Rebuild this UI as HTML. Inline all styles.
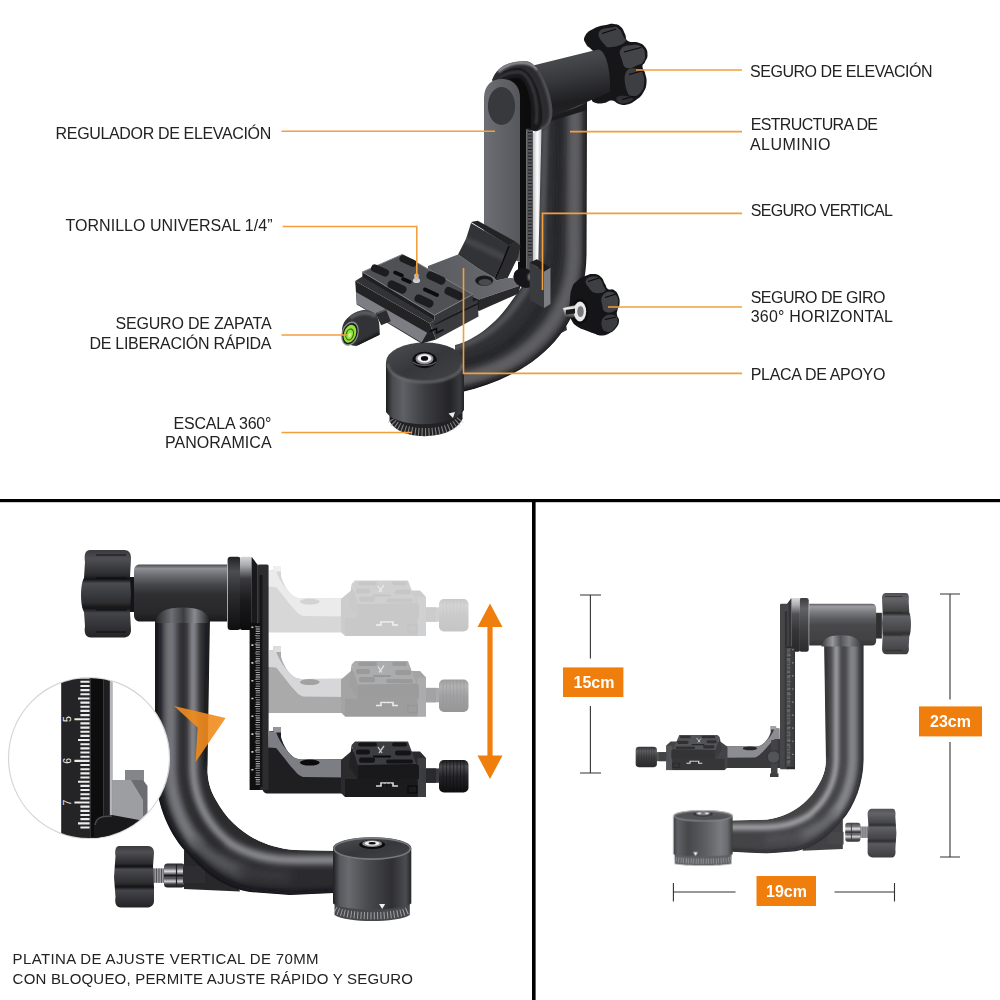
<!DOCTYPE html>
<html lang="es">
<head>
<meta charset="utf-8">
<title>Gimbal</title>
<style>
html,body{margin:0;padding:0;background:#fff;}
body{width:1000px;height:1000px;overflow:hidden;position:relative;font-family:"Liberation Sans",sans-serif;}
svg{position:absolute;left:0;top:0;display:block;}
.lb{font-family:"Liberation Sans",sans-serif;font-size:16px;fill:#222;}
.lb2{font-family:"Liberation Sans",sans-serif;font-size:15px;fill:#222;}
.dim{font-family:"Liberation Sans",sans-serif;font-size:16px;font-weight:bold;fill:#fff;}
.ol{stroke:#f49e3c;stroke-width:1.6;fill:none;}
.dl{stroke:#333;stroke-width:1.1;fill:none;}
</style>
</head>
<body>
<svg width="1000" height="1000" viewBox="0 0 1000 1000">
<defs>
<filter id="b1" filterUnits="userSpaceOnUse" x="0" y="0" width="1000" height="1000"><feGaussianBlur stdDeviation="1"/></filter>
<filter id="b2" filterUnits="userSpaceOnUse" x="0" y="0" width="1000" height="1000"><feGaussianBlur stdDeviation="2"/></filter>
<filter id="b3" filterUnits="userSpaceOnUse" x="0" y="0" width="1000" height="1000"><feGaussianBlur stdDeviation="3.2"/></filter>
<filter id="b5" filterUnits="userSpaceOnUse" x="0" y="0" width="1000" height="1000"><feGaussianBlur stdDeviation="5"/></filter>
<linearGradient id="gVT" x1="0" x2="1" y1="0" y2="0">
 <stop offset="0" stop-color="#2d2d30"/><stop offset=".12" stop-color="#1a1a1c"/><stop offset=".35" stop-color="#1f1f21"/>
 <stop offset=".62" stop-color="#35363a"/><stop offset=".85" stop-color="#2a2a2d"/><stop offset="1" stop-color="#161618"/>
</linearGradient>
<linearGradient id="gHT" x1="0" x2="0.22" y1="0" y2="1">
 <stop offset="0" stop-color="#2e2e31"/><stop offset=".22" stop-color="#48494d"/><stop offset=".5" stop-color="#37383c"/>
 <stop offset=".85" stop-color="#1e1e20"/><stop offset="1" stop-color="#232326"/>
</linearGradient>
<linearGradient id="gCyl" x1="0" x2="1" y1="0" y2="0">
 <stop offset="0" stop-color="#1c1c1e"/><stop offset=".08" stop-color="#4a4b4f"/><stop offset=".22" stop-color="#606166"/>
 <stop offset=".5" stop-color="#3c3d41"/><stop offset=".82" stop-color="#242427"/><stop offset=".95" stop-color="#3a3b3f"/><stop offset="1" stop-color="#222225"/>
</linearGradient>
<linearGradient id="gCylTop" x1="0" x2="1" y1="0" y2="1">
 <stop offset="0" stop-color="#4e4f53"/><stop offset=".5" stop-color="#36373a"/><stop offset="1" stop-color="#434448"/>
</linearGradient>
<linearGradient id="gRing" x1="0" x2="1" y1="0" y2="0">
 <stop offset="0" stop-color="#222"/><stop offset=".3" stop-color="#555"/><stop offset=".6" stop-color="#3a3a3a"/><stop offset="1" stop-color="#1c1c1c"/>
</linearGradient>
<linearGradient id="gPlate" x1="0" x2="1" y1="0" y2="0">
 <stop offset="0" stop-color="#6e6f74"/><stop offset=".5" stop-color="#626368"/><stop offset="1" stop-color="#56575c"/>
</linearGradient>
<linearGradient id="gSilver" x1="0" x2="1" y1="0" y2="0">
 <stop offset="0" stop-color="#bfc0c4"/><stop offset=".5" stop-color="#ffffff"/><stop offset="1" stop-color="#c9cace"/>
</linearGradient>
<linearGradient id="gPlat" x1="0" x2="1" y1="0" y2="0">
 <stop offset="0" stop-color="#5a5b60"/><stop offset="1" stop-color="#6c6d72"/>
</linearGradient>
<radialGradient id="gKnob" cx=".45" cy=".35" r=".8">
 <stop offset="0" stop-color="#4a4b4f"/><stop offset=".5" stop-color="#2a2a2d"/><stop offset="1" stop-color="#151517"/>
</radialGradient>
<linearGradient id="gShaft" x1="0" x2="0" y1="0" y2="1">
 <stop offset="0" stop-color="#777"/><stop offset=".3" stop-color="#f2f2f2"/><stop offset=".6" stop-color="#8a8a8a"/><stop offset="1" stop-color="#333"/>
</linearGradient>

</defs>
<rect width="1000" height="1000" fill="#fff"/>

<g id="topprod">
<path d="M538,331 L565,319 L567,330 L540,344Z" fill="#323336"/>
<clipPath id="cArmT"><path d="M542,100 L587,100 L586.5,255 C586,300 566,338 532,362 C512,376 488,386 462,392 L455,392 L455,345 C476,340 497,322 510,303 C524,284 534,270 537,250 Z"/></clipPath>
<g clip-path="url(#cArmT)">
<path d="M542,100 L587,100 L586.5,255 C586,300 566,338 532,362 C512,376 488,386 462,392 L455,392 L455,345 C476,340 497,322 510,303 C524,284 534,270 537,250 Z" fill="#303134"/>
<path d="M575,95 L574,255 C573,296 554,330 523,353 C504,367 483,375 450,381" stroke="#5e5f64" stroke-width="14" fill="none" filter="url(#b3)"/>
<path d="M546,95 L541.5,250 C538,272 527,289 514,307 C501,325 481,341 450,349" stroke="#55565b" stroke-width="6" fill="none" filter="url(#b2)"/>
<path d="M559,95 L556,255 C553,290 539,316 515,338 C499,352 481,360 450,366" stroke="#232326" stroke-width="6" fill="none" filter="url(#b3)"/>
<path d="M588,95 L587.5,255 C587,300 567,339 533,363 C513,377 489,387 450,394" stroke="#121214" stroke-width="5" fill="none" filter="url(#b2)"/>
</g>
<path d="M389.500,412 L389.500,421 C399,441.500 452,441.500 462.500,419 L462.500,410Z" fill="#222224"/>
<path d="M391,420 C401,436.500 451,436.500 461.500,418" stroke="#c4c4c4" stroke-width="8" stroke-dasharray="1.100 2.300" fill="none" opacity=".6"/>
<path d="M386,362 L386,412 C396,428.500 452,428.500 464,410 L464,362 Z" fill="url(#gCyl)"/>
<ellipse cx="425" cy="362" rx="39" ry="19.5" fill="url(#gCylTop)"/>
<path d="M387.500,364 C390,388 460,388 462.500,364" fill="none" stroke="#6a6b70" stroke-width="2.200" filter="url(#b1)"/>
<ellipse cx="424.500" cy="360" rx="12.200" ry="8.200" fill="#0e0e10"/>
<ellipse cx="424.500" cy="358.800" rx="9" ry="5.600" fill="#8a8a8e"/>
<ellipse cx="424.500" cy="358.400" rx="7" ry="4.200" fill="#f4f4f6"/>
<ellipse cx="424.500" cy="358.400" rx="3.600" ry="2.300" fill="#0c0c0d"/>
<path d="M413,362 C418,366.500 431,366.500 436,362" stroke="#5a5a5e" stroke-width="1.300" fill="none"/>
<path d="M448.500,413.500 l6.500,-1.500 l-2,6z" fill="#ececec"/>
<path d="M585.0,36.0 C587.0,32.1 588.7,31.3 594.0,28.5 C599.3,25.7 601.0,26.1 606.0,25.0 C611.0,23.9 610.2,23.5 614.0,24.0 C617.8,24.5 618.2,24.5 621.0,27.0 C623.8,29.5 623.2,30.5 625.0,34.0 C626.8,37.5 624.7,38.9 628.0,41.0 C631.3,43.1 633.7,41.0 638.0,42.5 C642.3,44.0 642.6,43.9 645.0,47.0 C647.4,50.1 647.5,51.2 647.5,55.0 C647.5,58.8 646.3,59.1 645.0,62.0 C643.7,64.9 642.5,63.7 642.5,66.5 C642.5,69.3 644.0,68.9 645.0,73.0 C646.0,77.1 647.0,78.0 646.5,83.0 C646.0,88.0 645.6,88.7 643.0,93.0 C640.4,97.3 640.0,97.1 636.0,100.0 C632.0,102.9 631.3,103.5 627.0,104.5 C622.7,105.5 622.8,105.0 619.0,104.0 C615.2,103.0 615.8,100.8 612.0,100.5 C608.2,100.2 608.0,102.4 604.0,103.0 C600.0,103.6 599.0,104.0 596.0,103.0 C593.0,102.0 591.7,101.8 592.0,99.0 C592.3,96.2 594.2,95.8 597.0,92.0 C599.8,88.2 602.0,92.0 603.0,84.0 C604.0,76.0 603.8,68.5 601.0,60.0 C598.2,51.5 595.8,54.0 592.0,50.0 C588.2,46.0 587.8,47.5 586.0,44.0 C584.2,40.5 583.0,39.9 585.0,36.0Z" fill="#161618"/>
<path d="M599.0,32.0 C601.0,27.9 607.0,28.3 612.0,27.5 C617.0,26.7 616.2,26.9 619.0,29.0 C621.8,31.1 621.5,32.7 623.0,36.0 C624.5,39.3 627.8,39.2 625.0,42.0 C622.2,44.8 617.3,46.5 612.0,47.0 C606.7,47.5 607.3,47.8 604.0,44.0 C600.7,40.2 597.0,36.1 599.0,32.0Z" fill="#3f4044"/>
<path d="M621.0,49.0 C623.8,45.2 627.7,45.4 633.0,45.0 C638.3,44.6 639.0,45.0 642.0,47.5 C645.0,50.0 644.7,51.4 645.0,55.0 C645.3,58.6 644.8,59.5 643.0,62.0 C641.2,64.5 642.0,63.5 638.0,65.0 C634.0,66.5 631.0,69.3 627.0,68.0 C623.0,66.7 623.5,64.8 622.0,60.0 C620.5,55.2 618.2,52.8 621.0,49.0Z" fill="#434448"/>
<path d="M626.0,72.0 C628.8,66.5 633.7,68.5 638.0,69.0 C642.3,69.5 641.5,70.2 643.0,74.0 C644.5,77.8 644.5,79.5 644.0,84.0 C643.5,88.5 643.5,89.0 641.0,92.0 C638.5,95.0 637.5,96.3 634.0,96.0 C630.5,95.7 629.0,97.0 627.0,91.0 C625.0,85.0 623.2,77.5 626.0,72.0Z" fill="#3d3e42"/>
<path d="M617.0,97.0 C618.8,95.4 622.0,95.5 626.0,96.0 C630.0,96.5 633.0,97.2 633.0,99.0 C633.0,100.8 629.5,102.1 626.0,103.0 C622.5,103.9 621.3,104.0 619.0,102.5 C616.7,101.0 615.2,98.6 617.0,97.0Z" fill="#303134"/>
<path d="M602,33.500 L616,29 M624,52 L641,47.500 M629,74.500 L642,71 M622,99.500 L633,96.500" stroke="#0b0b0c" stroke-width="1.2"/>
<path d="M531,66 L598,49.500 C606,50 611,70 610,92 L552,117 C548,100 542,80 531,66Z" fill="url(#gHT)"/>
<path d="M552,117 L587,103 L587,110 L548,122Z" fill="#1c1c1e"/>
<path d="M492,80 C497,66 512,59.500 528,61.500 C541,66 551,90 552.500,110 C553,124 546,132 536,131.500 L520,128 Z" fill="#2c2c2f"/>
<clipPath id="cHub"><path d="M492,80 C497,66 512,59.500 528,61.500 C541,66 551,90 552.500,110 C553,124 546,132 536,131.500 L520,128 Z"/></clipPath>
<g clip-path="url(#cHub)">
<path d="M498,71.600 C505,65 514,62.500 523,62.500 C530,63 535,66 538,70" stroke="#97989d" stroke-width="3.200" fill="none" filter="url(#b1)"/>
<path d="M538,70 C544,80 550,96 551,110 C551.500,120 548,127 541,129.500" stroke="#55565b" stroke-width="3" fill="none" filter="url(#b1)"/>
</g>
<path d="M493,84 C499,72 510,67.500 520,68 C527,69 533,78 537.600,89.600 C541,100 543,112 542,120 C541,127 538,130 534,130.500 L520,128Z" fill="#19191b"/>
<path d="M497,80 C504,73 512,71.500 520,72 C527,74 532,84 535,96 C537,106 537.500,116 536,124" stroke="#3c3d41" stroke-width="2.500" fill="none" filter="url(#b1)"/>
<path d="M500,84 C507,78 515,77 521,79 C527,84 530,96 531,108 L531,128 L520,128Z" fill="#0c0c0d"/>
<path d="M520,96 L526.5,100 L526.5,280 L518,280 L518,262 L520,262Z" fill="#0d0d0e"/>
<rect x="526.5" y="130" width="6.5" height="150" fill="#55565a"/>
<path d="M530,132V258" stroke="#1c1c1e" stroke-width="4" stroke-dasharray="1 2.4" fill="none"/>
<path d="M533,133 L541.5,129 L538,275 L533,275Z" fill="url(#gSilver)"/>
<path d="M484,98 C484,86 491,79 502,79 C513,79 520,86 520,98 L520,262 L484,250Z" fill="url(#gPlate)"/>
<ellipse cx="501.5" cy="106" rx="13.6" ry="19" fill="#38393d"/>
<path d="M484.5,98 L484.5,250" stroke="#6a6b70" stroke-width="1"/>
<path d="M428,266 L458,254.6 L479,269 L494.6,278 L496,280.6 L507.6,278 L513,278 L520.6,285.5 L479,299.5 L471,296 L428,276Z" fill="url(#gPlat)"/>
<path d="M479,299.5 L520.6,285.5 L518.500,293.6 L479,311Z" fill="#29292c"/>
<path d="M471,296 L479,299.5 L479,311 L471,306Z" fill="#1b1b1d"/>
<ellipse cx="484.2" cy="280.6" rx="9" ry="5.2" fill="#1a1a1c"/>
<ellipse cx="485" cy="282.2" rx="6.500" ry="3.2" fill="#4a4b4f"/>
<path d="M471,223 L509,245.500 L502.4,261 L494.6,278 L479,269 L458,254.6 L466,239Z" fill="#323336"/>
<clipPath id="cWall"><path d="M471,223 L509,245.500 L502.4,261 L494.6,278 L479,269 L458,254.6 L466,239Z"/></clipPath>
<path d="M462,238 L507,259" stroke="#4a4b4f" stroke-width="5" filter="url(#b2)" clip-path="url(#cWall)"/>
<path d="M471,222 L477.7,220.8 L515.4,241.6 L509,245.500Z" fill="#232326"/>
<path d="M509,245.500 L515.4,241.6 L520.6,245.500 L518,257 L507.6,278 L496,280.6 L494.6,278 L502.4,261Z" fill="#2c2c2f"/>
<path d="M509,246 L503,261 L495.500,278" stroke="#0e0e10" stroke-width="1.6" fill="none"/>
<ellipse cx="524.500" cy="278" rx="11.500" ry="9.500" fill="#161618" transform="rotate(25 524.500 278)"/>
<ellipse cx="530.500" cy="277" rx="2.6" ry="3.4" fill="#8a8b90" filter="url(#b1)"/>
<path d="M529.7,262.4 L544,271.500 L544,308 L529.7,300Z" fill="#3a3b3f"/>
<path d="M544,271.500 L550.500,267.6 L550.500,304 L544,308Z" fill="#7d7e83"/>
<path d="M529.7,262.4 L536.9,259.2 L550.500,267.6 L544,271.500Z" fill="#1e1e20"/>
<path d="M355.2,281 L429.6,323.2 L436,339.500 L421.6,343.500 L356.8,304.500Z" fill="#232326"/>
<path d="M356,292 L427.2,332.8 L421.6,342.4 L356.8,304Z" fill="#7d7e83"/>
<path d="M355.2,281 L362.4,276.500 L434.4,320.200 L429.6,323.200Z" fill="#323336"/>
<path d="M429.6,323.200 L434.4,320.200 L477.6,299.500 L478.500,316.500 L436,339.500Z" fill="#3a3b3f"/>
<path d="M434.4,324.500 L477.6,303.800" stroke="#1a1a1c" stroke-width="1.500"/>
<path d="M430,331.500 l6.500,-3 l0,4.500 l7,-3.300" stroke="#0c0c0d" stroke-width="1.600" fill="none"/>
<path d="M444,316.500 l15,-7" stroke="#b8b8bc" stroke-width="1.500" stroke-dasharray="2 1.500"/>
<path d="M362.4,272 L402.4,254.400 L472.8,294.400 L434.4,315.200Z" fill="#505155"/>
<path d="M362.4,272 L434.4,315.200 L434.4,320.500 L362.4,277Z" fill="#1f1f22"/>
<path d="M434.4,315.200 L472.8,294.400 L472.8,302.500 L434.4,324.500Z" fill="#37383c"/>
<path d="M362.4,272 L402.4,254.400 L472.8,294.400 L434.4,315.200Z" fill="none" stroke="#7d7e83" stroke-width="1"/>
<rect x="370.5" y="266.6" width="19" height="7.8" rx="3.9" fill="#1d1d20" transform="rotate(24 380 270.5)"/>
<rect x="399" y="257.4" width="18" height="7.2" rx="3.6" fill="#1d1d20" transform="rotate(24 408 261)"/>
<rect x="387" y="282.9" width="20" height="8.2" rx="4.1" fill="#1d1d20" transform="rotate(24 397 287)"/>
<rect x="426" y="273.9" width="20" height="8.2" rx="4.1" fill="#1d1d20" transform="rotate(24 436 278)"/>
<rect x="414" y="296.9" width="20" height="8.2" rx="4.1" fill="#1d1d20" transform="rotate(24 424 301)"/>
<rect x="444" y="289.4" width="20" height="8.2" rx="4.1" fill="#1d1d20" transform="rotate(24 454 293.5)"/>
<path d="M395,272.500 l7,3" stroke="#0c0c0d" stroke-width="3.6" stroke-linecap="round"/>
<path d="M403,279 l7,3" stroke="#0c0c0d" stroke-width="3.6" stroke-linecap="round"/>
<path d="M425,289.500 l12,5.500" stroke="#0c0c0d" stroke-width="4" stroke-linecap="round"/>
<ellipse cx="416.500" cy="280.500" rx="3.6" ry="2.6" fill="#d0d0d4"/>
<rect x="414.3" y="273.500" width="4.4" height="7" rx="1.800" fill="#c0c0c4"/>
<path d="M375.6,313.2 L386,309.2 L390.8,321.2 L381.2,325.2Z" fill="#2c2c2f"/>
<path d="M376.500,313.500 L386.500,309.700" stroke="#55565a" stroke-width="1.500"/>
<clipPath id="cLev"><path d="M348.4,317.2 C354,312 362,309.500 366,310 C370,310.500 373,312 374.8,314 C378,316 380,322 379.6,334.8 L356.4,346 C350,346 343,342 342,333 C341.500,326 344,321 348.4,317.2Z"/></clipPath>
<path d="M348.4,317.2 C354,312 362,309.500 366,310 C370,310.500 373,312 374.8,314 C378,316 380,322 379.6,334.8 L356.4,346 C350,346 343,342 342,333 C341.500,326 344,321 348.4,317.2Z" fill="#323336"/>
<g clip-path="url(#cLev)">
<path d="M350,318 C358,312 368,311 376,316" stroke="#5c5d62" stroke-width="4" fill="none" filter="url(#b1)"/>
<path d="M358,346 L381,334" stroke="#161618" stroke-width="5" fill="none" filter="url(#b1)"/>
</g>
<g transform="rotate(18 350 333.6)">
<ellipse cx="350" cy="333.6" rx="8.400" ry="12.400" fill="#8e8f94"/>
<ellipse cx="350" cy="333.6" rx="7.200" ry="11" fill="#1a1a1c"/>
<ellipse cx="350" cy="333.8" rx="6" ry="9.300" fill="#92e03c"/>
<ellipse cx="350" cy="334.500" rx="3.600" ry="5.600" fill="none" stroke="#2f6a08" stroke-width="1.100"/>
<ellipse cx="350.300" cy="335" rx="1.600" ry="2.600" fill="#c9f58a"/>
</g>
<path d="M572.0,288.0 C573.8,283.2 573.7,284.0 577.0,281.0 C580.3,278.0 580.7,277.8 585.0,276.0 C589.3,274.2 590.0,273.7 594.0,274.0 C598.0,274.3 598.2,274.5 601.0,277.0 C603.8,279.5 603.2,281.0 605.0,284.0 C606.8,287.0 605.7,287.5 608.0,289.0 C610.3,290.5 611.4,288.2 614.0,290.0 C616.6,291.8 617.1,292.5 618.5,296.0 C619.9,299.5 619.8,300.5 619.5,304.0 C619.2,307.5 618.1,307.2 617.5,310.0 C616.9,312.8 616.6,312.2 617.0,315.0 C617.4,317.8 619.3,317.7 619.0,321.0 C618.7,324.3 618.5,324.9 616.0,328.0 C613.5,331.1 612.8,331.6 609.0,333.5 C605.2,335.4 604.8,335.5 601.0,335.5 C597.2,335.5 597.8,334.8 594.0,333.5 C590.2,332.2 590.0,332.1 586.0,330.5 C582.0,328.9 581.5,329.4 578.0,327.0 C574.5,324.6 574.1,324.8 572.0,321.0 C569.9,317.2 570.0,317.3 569.5,312.0 C569.0,306.7 569.4,306.0 570.0,300.0 C570.6,294.0 570.2,292.8 572.0,288.0Z" fill="#151517"/>
<path d="M586.0,280.0 C587.3,277.1 590.5,276.8 594.0,276.5 C597.5,276.2 597.6,276.6 600.0,279.0 C602.4,281.4 602.2,283.0 603.5,286.0 C604.8,289.0 606.9,289.2 605.0,291.0 C603.1,292.8 600.0,293.8 596.0,293.0 C592.0,292.2 591.5,291.3 589.0,288.0 C586.5,284.7 584.7,282.9 586.0,280.0Z" fill="#3e3f43"/>
<path d="M603.0,295.0 C605.3,292.0 607.5,291.6 611.0,292.0 C614.5,292.4 615.2,293.5 617.0,296.5 C618.8,299.5 618.3,300.6 618.0,304.0 C617.7,307.4 619.0,308.0 616.0,310.0 C613.0,312.0 609.5,313.5 606.0,312.0 C602.5,310.5 602.8,308.3 602.0,304.0 C601.2,299.7 600.7,298.0 603.0,295.0Z" fill="#424347"/>
<path d="M604.0,317.0 C607.0,314.0 610.6,314.0 614.0,315.0 C617.4,316.0 617.4,317.7 617.5,321.0 C617.6,324.3 616.9,325.2 614.5,328.0 C612.1,330.8 611.1,332.3 608.0,332.0 C604.9,331.7 603.0,330.8 602.0,327.0 C601.0,323.2 601.0,320.0 604.0,317.0Z" fill="#3a3b3f"/>
<path d="M588,281.500 L599,278 M605,297.500 L616,294 M605,319.500 L616,317" stroke="#0a0a0b" stroke-width="1.1"/>
<ellipse cx="580" cy="311.500" rx="8.500" ry="12.500" fill="#0c0c0d"/>
<path d="M563,308 L580,304 L580,318 L565,317Z" fill="url(#gShaft)"/>
<ellipse cx="580" cy="311.500" rx="6.200" ry="10" fill="#e9e9ec"/>
<ellipse cx="580.500" cy="311.500" rx="3.200" ry="5.500" fill="#7a7a7e"/>
<path d="M566,310 l9,-1.500 l0,5 l-9,1z" fill="#1a1a1c"/>
</g>

<defs>
<linearGradient id="gKn2" x1="0" x2="0" y1="0" y2="1"><stop offset="0" stop-color="#3a3a3e"/><stop offset=".1" stop-color="#4e4f53"/><stop offset=".28" stop-color="#2d2d30"/><stop offset=".335" stop-color="#141416"/><stop offset=".38" stop-color="#4a4b4f"/><stop offset=".6" stop-color="#2e2e31"/><stop offset=".665" stop-color="#141416"/><stop offset=".72" stop-color="#444549"/><stop offset="1" stop-color="#232326"/></linearGradient>
<linearGradient id="gHT2" x1="0" x2="0" y1="0" y2="1"><stop offset="0" stop-color="#4a4b4f"/><stop offset=".07" stop-color="#8e8f94"/><stop offset=".2" stop-color="#6a6b70"/><stop offset=".36" stop-color="#45464a"/><stop offset=".52" stop-color="#2f2f32"/><stop offset=".85" stop-color="#28282b"/><stop offset="1" stop-color="#1a1a1c"/></linearGradient>
<linearGradient id="gHub2" x1="0" x2="0" y1="0" y2="1"><stop offset="0" stop-color="#d5d6da"/><stop offset=".12" stop-color="#a8a9ad"/><stop offset=".3" stop-color="#3a3a3e"/><stop offset=".6" stop-color="#1a1a1c"/><stop offset="1" stop-color="#0c0c0d"/></linearGradient>
<linearGradient id="gHub1" x1="0" x2="0" y1="0" y2="1"><stop offset="0" stop-color="#222225"/><stop offset=".2" stop-color="#4c4d51"/><stop offset=".5" stop-color="#2c2c2f"/><stop offset="1" stop-color="#0f0f11"/></linearGradient>
<linearGradient id="gSad" x1="0" x2="1" y1="0" y2="0"><stop offset="0" stop-color="#242427"/><stop offset=".3" stop-color="#6e6f74"/><stop offset=".52" stop-color="#3c3d41"/><stop offset=".72" stop-color="#8a8b90"/><stop offset="1" stop-color="#1c1c1e"/></linearGradient>
<linearGradient id="gNut" x1="0" x2="0" y1="0" y2="1"><stop offset="0" stop-color="#2a2a2d"/><stop offset=".2" stop-color="#6a6a6e"/><stop offset=".32" stop-color="#e0e0e4"/><stop offset=".46" stop-color="#4a4a4e"/><stop offset=".62" stop-color="#56565a"/><stop offset=".74" stop-color="#d0d0d4"/><stop offset=".86" stop-color="#3a3a3e"/><stop offset="1" stop-color="#1a1a1c"/></linearGradient>
<linearGradient id="gCyl2" x1="0" x2="1" y1="0" y2="0"><stop offset="0" stop-color="#202022"/><stop offset=".09" stop-color="#58595e"/><stop offset=".2" stop-color="#696a6f"/><stop offset=".45" stop-color="#494a4e"/><stop offset=".75" stop-color="#2f2f32"/><stop offset=".93" stop-color="#4b4c50"/><stop offset="1" stop-color="#262629"/></linearGradient>
<g id="clampBL">
<path d="M262.5,752 C262.5,749 264,747.5 266,747.5 L269,747.5 L269,731 L273.5,731 L273.5,727 L281,727 L281,737 C283,745 289,755 295,758 C298,759.5 300,759.5 303,759.5 L345.6,759.2 L345.6,793.6 L268,793.6 C265,793.6 262.5,791.6 262.5,788.6Z" fill="#1f1f22"/>
<path d="M269,731 L276,732 C279,740 282,744 285,748 C288,752 291,756 295,758 C298,759.5 300,759.5 303,759.5 L345.6,759.2 L345.6,777.5 L303,777 C300,776 297,774 295,771 C291,767 288,763 285,759 C281,754 278,750 276,748 L268.5,747.5 Z" fill="#7d7e83"/>
<path d="M273.5,727 H281 V732.5 H273.5Z" fill="#95969b"/>
<ellipse cx="309.8" cy="762.6" rx="9.9" ry="3" fill="#0b0b0c"/>
<path d="M341,760 L351,751.6 L420,751.6 L426,758 L426,797 L345,797 L341,793Z" fill="#2b2b2e"/>
<rect x="417.6" y="758" width="8.4" height="39" fill="#3d3e42"/>
<rect x="345" y="779" width="72.6" height="18" fill="#1b1b1d"/>
<path d="M376,786 h5 v-3 h12 v3 h5" stroke="#d8d8d8" stroke-width="1.6" fill="none"/>
<path d="M383,783.5v3.5M386.7,783.5v3.5M390.4,783.5v3.5" stroke="#111111" stroke-width="1.2"/>
<rect x="408" y="786" width="9" height="7" fill="none" stroke="#0a0a0b" stroke-width="1.2"/>
<path d="M351.6,745 L355,741.4 L408,741.4 L416.4,764 L357.6,765.2Z" fill="#3c3d41"/>
<path d="M357.6,765.2 L416.4,764 L419,766 L419,779 L357.6,779Z" fill="#19191b"/>
<path d="M351.6,745 L357.6,765.2 L357.6,779 L349,766Z" fill="#222225"/>
<rect x="358" y="742.5" width="19" height="4" rx="2.2" fill="#141416"/>
<rect x="392" y="742.5" width="15" height="4" rx="2.2" fill="#141416"/>
<rect x="356" y="749.5" width="14" height="5" rx="2.2" fill="#141416"/>
<rect x="395" y="750.5" width="16" height="5" rx="2.2" fill="#141416"/>
<rect x="359" y="757.5" width="16" height="5.2" rx="2.2" fill="#141416"/>
<rect x="386" y="759.5" width="27" height="4" rx="2.2" fill="#141416"/>
<path d="M378,747 l4,6 M384,746 l-5,7" stroke="#c8c8cc" stroke-width="1.3"/>
<path d="M374,756.5 h16" stroke="#0c0c0d" stroke-width="2.2" stroke-linecap="round"/>
<rect x="422" y="768.4" width="18" height="14.4" fill="#3a3b3f"/>
<path d="M426,768.4 h10 v14.4 h-10z" fill="#2a2a2d"/>
<linearGradient id="gKnS_clampBL" x1="0" x2="0" y1="0" y2="1"><stop offset="0" stop-color="#1a1a1c"/><stop offset=".2" stop-color="#4a4b4f"/><stop offset=".5" stop-color="#252528"/><stop offset="1" stop-color="#0e0e10"/></linearGradient>
<rect x="439" y="760" width="29.5" height="32.4" rx="5" fill="url(#gKnS_clampBL)"/>
<path d="M443,761V792M446.5,760.5V792M450,760.5V792M453.5,760.5V792M457,760.5V792M460.5,760.5V792M464,761V792" stroke="#0c0c0d" stroke-width=".7" opacity=".7"/>
</g>
<g id="clampG1">
<path d="M262.5,752 C262.5,749 264,747.5 266,747.5 L269,747.5 L269,731 L273.5,731 L273.5,727 L281,727 L281,737 C283,745 289,755 295,758 C298,759.5 300,759.5 303,759.5 L345.6,759.2 L345.6,793.6 L268,793.6 C265,793.6 262.5,791.6 262.5,788.6Z" fill="#aaaaab"/>
<path d="M269,731 L276,732 C279,740 282,744 285,748 C288,752 291,756 295,758 C298,759.5 300,759.5 303,759.5 L345.6,759.2 L345.6,777.5 L303,777 C300,776 297,774 295,771 C291,767 288,763 285,759 C281,754 278,750 276,748 L268.5,747.5 Z" fill="#d7d7d9"/>
<path d="M273.5,727 H281 V732.5 H273.5Z" fill="#dedee0"/>
<ellipse cx="309.8" cy="762.6" rx="9.9" ry="3" fill="#a2a2a3"/>
<path d="M341,760 L351,751.6 L420,751.6 L426,758 L426,797 L345,797 L341,793Z" fill="#a4a4a5"/>
<rect x="417.6" y="758" width="8.4" height="39" fill="#acacae"/>
<rect x="345" y="779" width="72.6" height="18" fill="#9d9d9e"/>
<path d="M376,786 h5 v-3 h12 v3 h5" stroke="#eaeaea" stroke-width="1.6" fill="none"/>
<path d="M383,783.5v3.5M386.7,783.5v3.5M390.4,783.5v3.5" stroke="#999999" stroke-width="1.2"/>
<rect x="408" y="786" width="9" height="7" fill="none" stroke="#969696" stroke-width="1.2"/>
<path d="M351.6,745 L355,741.4 L408,741.4 L416.4,764 L357.6,765.2Z" fill="#abacad"/>
<path d="M357.6,765.2 L416.4,764 L419,766 L419,779 L357.6,779Z" fill="#9c9c9d"/>
<path d="M351.6,745 L357.6,765.2 L357.6,779 L349,766Z" fill="#a0a0a1"/>
<rect x="358" y="742.5" width="19" height="4" rx="2.2" fill="#9a9a9b"/>
<rect x="392" y="742.5" width="15" height="4" rx="2.2" fill="#9a9a9b"/>
<rect x="356" y="749.5" width="14" height="5" rx="2.2" fill="#9a9a9b"/>
<rect x="395" y="750.5" width="16" height="5" rx="2.2" fill="#9a9a9b"/>
<rect x="359" y="757.5" width="16" height="5.2" rx="2.2" fill="#9a9a9b"/>
<rect x="386" y="759.5" width="27" height="4" rx="2.2" fill="#9a9a9b"/>
<path d="M378,747 l4,6 M384,746 l-5,7" stroke="#e1e1e3" stroke-width="1.3"/>
<path d="M374,756.5 h16" stroke="#979797" stroke-width="2.2" stroke-linecap="round"/>
<rect x="422" y="768.4" width="18" height="14.4" fill="#aaabac"/>
<path d="M426,768.4 h10 v14.4 h-10z" fill="#a3a3a5"/>
<linearGradient id="gKnS_clampG1" x1="0" x2="0" y1="0" y2="1"><stop offset="0" stop-color="#9d9d9d"/><stop offset=".2" stop-color="#b1b2b3"/><stop offset=".5" stop-color="#a1a1a3"/><stop offset="1" stop-color="#979798"/></linearGradient>
<rect x="439" y="760" width="29.5" height="32.4" rx="5" fill="url(#gKnS_clampG1)"/>
<path d="M443,761V792M446.5,760.5V792M450,760.5V792M453.5,760.5V792M457,760.5V792M460.5,760.5V792M464,761V792" stroke="#979797" stroke-width=".7" opacity=".7"/>
</g>
<g id="clampG2">
<path d="M262.5,752 C262.5,749 264,747.5 266,747.5 L269,747.5 L269,731 L273.5,731 L273.5,727 L281,727 L281,737 C283,745 289,755 295,758 C298,759.5 300,759.5 303,759.5 L345.6,759.2 L345.6,793.6 L268,793.6 C265,793.6 262.5,791.6 262.5,788.6Z" fill="#d7d7d7"/>
<path d="M269,731 L276,732 C279,740 282,744 285,748 C288,752 291,756 295,758 C298,759.5 300,759.5 303,759.5 L345.6,759.2 L345.6,777.5 L303,777 C300,776 297,774 295,771 C291,767 288,763 285,759 C281,754 278,750 276,748 L268.5,747.5 Z" fill="#ebebec"/>
<path d="M273.5,727 H281 V732.5 H273.5Z" fill="#efeff0"/>
<ellipse cx="309.8" cy="762.6" rx="9.9" ry="3" fill="#d3d3d3"/>
<path d="M341,760 L351,751.6 L420,751.6 L426,758 L426,797 L345,797 L341,793Z" fill="#cccccd"/>
<rect x="417.6" y="758" width="8.4" height="39" fill="#d0d1d2"/>
<rect x="345" y="779" width="72.6" height="18" fill="#c8c8c9"/>
<path d="M376,786 h5 v-3 h12 v3 h5" stroke="#f0f0f0" stroke-width="1.6" fill="none"/>
<path d="M383,783.5v3.5M386.7,783.5v3.5M390.4,783.5v3.5" stroke="#c6c6c6" stroke-width="1.2"/>
<rect x="408" y="786" width="9" height="7" fill="none" stroke="#c4c4c4" stroke-width="1.2"/>
<path d="M351.6,745 L355,741.4 L408,741.4 L416.4,764 L357.6,765.2Z" fill="#d0d0d1"/>
<path d="M357.6,765.2 L416.4,764 L419,766 L419,779 L357.6,779Z" fill="#c8c8c8"/>
<path d="M351.6,745 L357.6,765.2 L357.6,779 L349,766Z" fill="#cacacb"/>
<rect x="358" y="742.5" width="19" height="4" rx="2.2" fill="#c7c7c7"/>
<rect x="392" y="742.5" width="15" height="4" rx="2.2" fill="#c7c7c7"/>
<rect x="356" y="749.5" width="14" height="5" rx="2.2" fill="#c7c7c7"/>
<rect x="395" y="750.5" width="16" height="5" rx="2.2" fill="#c7c7c7"/>
<rect x="359" y="757.5" width="16" height="5.2" rx="2.2" fill="#c7c7c7"/>
<rect x="386" y="759.5" width="27" height="4" rx="2.2" fill="#c7c7c7"/>
<path d="M378,747 l4,6 M384,746 l-5,7" stroke="#e9e9eb" stroke-width="1.3"/>
<path d="M374,756.5 h16" stroke="#c5c5c5" stroke-width="2.2" stroke-linecap="round"/>
<rect x="422" y="768.4" width="18" height="14.4" fill="#d0d0d1"/>
<path d="M426,768.4 h10 v14.4 h-10z" fill="#cccccd"/>
<linearGradient id="gKnS_clampG2" x1="0" x2="0" y1="0" y2="1"><stop offset="0" stop-color="#c8c8c9"/><stop offset=".2" stop-color="#d4d4d5"/><stop offset=".5" stop-color="#cbcbcb"/><stop offset="1" stop-color="#c5c5c6"/></linearGradient>
<rect x="439" y="760" width="29.5" height="32.4" rx="5" fill="url(#gKnS_clampG2)"/>
<path d="M443,761V792M446.5,760.5V792M450,760.5V792M453.5,760.5V792M457,760.5V792M460.5,760.5V792M464,761V792" stroke="#c5c5c5" stroke-width=".7" opacity=".7"/>
</g>
<g id="sknobBL">
<rect x="152" y="868.4" width="14" height="14.4" fill="#9a9a9e"/>
<path d="M154,868.4v14.4M156.500,868.4v14.4M159,868.4v14.4M161.500,868.4v14.4M164,868.4v14.4" stroke="#4a4a4e" stroke-width=".9"/>
<rect x="164" y="863.6" width="21" height="24" rx="3.5" fill="url(#gNut)"/>
<path d="M176.500,864V887" stroke="#222" stroke-width="1.200"/>
<path d="M164,875.600H185" stroke="#1a1a1c" stroke-width="1.600"/>
<path d="M119,846 L148,846 C152,846 154,849 154,853 L153,866 L154,888 L154,901 C154,905 151,907.5 147,907.5 L121,907.5 C116,907.5 114.5,903 115.5,897 L114,877 L115.5,856 C114.5,850 116,846 119,846Z" fill="url(#gKn2)"/>
</g>
<clipPath id="cArmB"><path d="M155,615 L155,770 C156,800 166,830 186,852 C202,870 222,888 250,892 L290,895 L345,892.5 L345,851 L295,850 C262,848 232,830 216,800 C210,790 207.5,780 207.5,768 L210,615Z"/></clipPath>
<g id="armBL">
<path d="M184,850 L184,889 L240,891.5 L230,862Z" fill="#28282b"/>
<rect x="183" y="866" width="22" height="17" fill="#2e2e31"/>
<g clip-path="url(#cArmB)">
<path d="M155,615 L155,770 C156,800 166,830 186,852 C202,870 222,888 250,892 L290,895 L345,892.5 L345,851 L295,850 C262,848 232,830 216,800 C210,790 207.5,780 207.5,768 L210,615Z" fill="#2b2b2e"/>
<path d="M171,600 L171,770 C172,800 182,826 198,846" stroke="#7e7f84" stroke-width="14" fill="none" filter="url(#b5)"/>
<path d="M192,838 C206,854 224,866 244,872" stroke="#5a5b60" stroke-width="12" fill="none" filter="url(#b5)"/>
<path d="M236,869 C252,874 270,876 290,876" stroke="#3a3b3f" stroke-width="10" fill="none" filter="url(#b5)"/>
<path d="M193,600 L193,770 C194,798 206,824 228,842 C248,856 270,860 295,860 L350,860" stroke="#9c9da2" stroke-width="7.500" fill="none" filter="url(#b3)"/>
<path d="M182,600 L182,770 C183,803 198,831 222,848" stroke="#2a2a2d" stroke-width="6" fill="none" filter="url(#b3)"/>
<path d="M155.500,600 L155.500,770 C156.500,800 166.500,830 186.500,852 C202.500,870 222.500,888 250,893 L290,896.500 L350,893.500" stroke="#101012" stroke-width="8" fill="none" filter="url(#b3)"/>
<path d="M209.500,600 L207.500,768" stroke="#111113" stroke-width="4" fill="none" filter="url(#b2)"/>
</g>
</g>
<g id="baseBL">
<path d="M334.5,900.5 L334.5,915 C347,923 397.3,923 409.8,915 L409.8,900.5Z" fill="#47484c"/>
<path d="M335,909.75 C347,917.75 397.3,917.75 409.3,909.75" stroke="#e0e0e0" stroke-width="7.13" stroke-dasharray="1 2.3" fill="none" opacity=".6"/>
<path d="M333,848 L333,903.5 C346,911.5 398.3,911.5 411.3,903.5 L411.3,848Z" fill="url(#gCyl2)"/>
<ellipse cx="372.15" cy="848" rx="39.15" ry="10.8" fill="url(#gCylTop)"/>
<ellipse cx="372.15" cy="848.6" rx="38.25" ry="10.5" fill="none" stroke="#77787d" stroke-width="1.6"/>
<ellipse cx="372.15" cy="844.571" rx="13" ry="4.45714" fill="#0c0c0d"/>
<ellipse cx="372.15" cy="843.714" rx="10" ry="3.34286" fill="#8a8a8e"/>
<ellipse cx="372.15" cy="843.371" rx="7.5" ry="2.4" fill="#f0f0f2"/>
<ellipse cx="372.15" cy="843.286" rx="3.6" ry="1.2" fill="#0c0c0d"/>
<path d="M379.15,904 l6,0 l-3,5z" fill="#f0f0f0"/>
</g>
<g id="baseBR0">
<path d="M334,903 L334,918.5 C346.5,921.833 397,921.833 409.5,918.5 L409.5,903Z" fill="#47484c"/>
<path d="M334.5,912.75 C346.5,916.083 397,916.083 409,912.75" stroke="#e0e0e0" stroke-width="7.75" stroke-dasharray="1 2.3" fill="none" opacity=".6"/>
<path d="M332.5,853 L332.5,906 C345.5,909.333 398,909.333 411,906 L411,853Z" fill="url(#gCyl2)"/>
<ellipse cx="371.75" cy="853" rx="39.25" ry="7" fill="url(#gCylTop)"/>
<ellipse cx="371.75" cy="853.6" rx="38.35" ry="6.7" fill="none" stroke="#77787d" stroke-width="1.6"/>
<ellipse cx="371.75" cy="850.778" rx="13" ry="2.88889" fill="#0c0c0d"/>
<ellipse cx="371.75" cy="850.222" rx="10" ry="2.16667" fill="#8a8a8e"/>
<ellipse cx="371.75" cy="850" rx="7.5" ry="1.55556" fill="#f0f0f2"/>
<ellipse cx="371.75" cy="849.944" rx="3.6" ry="0.777778" fill="#0c0c0d"/>
<path d="M378.75,903 l6,0 l-3,5z" fill="#f0f0f0"/>
</g>
<g id="htubeBL">
<rect x="126" y="577" width="10" height="35" fill="#141416"/>
<path d="M140,564.5 H227 V621.5 H140 C136,621.5 134,619 134,615 V571 C134,567 136,564.5 140,564.5Z" fill="url(#gHT2)"/>
<path d="M155,623 C157,611 167,607.5 182,607.5 C199,607.5 208,611 210,623Z" fill="url(#gSad)"/>
<rect x="227.6" y="556.8" width="13" height="73.2" rx="3" fill="url(#gHub1)"/>
<rect x="240" y="556.8" width="11.8" height="73.2" rx="2" fill="url(#gHub2)"/>
<path d="M251.6,556.8 L257.8,565 L257.8,622 L251.6,630Z" fill="#19191b"/>
</g>
<g id="bknobBL">
<path d="M90,550 L124,550 C129,550 131,553 131,558 L130,577 L131,594 L130,612 L131,630 C131,635 128,637.5 123,637.5 L91,637.5 C85,637.5 84,632 85,626 L84,612 C80,606 80,584 84,578 L85,562 C84,555 85,550 90,550Z" fill="url(#gKn2)"/>
<path d="M96,555H126M96,578H127M96,610H127M96,632H126" stroke="#060607" stroke-width="1.2" opacity=".8"/>
</g>
<g id="plateBL">
<rect x="257.6" y="564.6" width="11" height="225.4" rx="1.5" fill="#2d2d30"/>
<rect x="259.5" y="575" width="3" height="212" fill="#161618"/>
<rect x="249.6" y="622.8" width="10.6" height="167.2" fill="#0f0f10"/>
<path d="M257.8,626V786" stroke="#d0d0d0" stroke-width="4.2" stroke-dasharray=".6 1.18" fill="none"/>
<path d="M255.8,626V786" stroke="#d0d0d0" stroke-width="1.8" stroke-dasharray=".6 8.3" fill="none"/>
<path d="M252.4,626.5V786" stroke="#d0d0d0" stroke-width="2" stroke-dasharray="1.6 16.2" fill="none"/>
</g>
</defs>
<g id="blprod">
<use href="#clampG2" transform="translate(0,-161)"/>
<use href="#clampG1" transform="translate(0,-80.5)"/>
<use href="#clampBL"/>
<use href="#sknobBL"/>
<use href="#armBL"/>
<use href="#baseBL"/>
<use href="#htubeBL"/>
<use href="#bknobBL"/>
<use href="#plateBL"/>
<path d="M174,706 L225.6,718 L195.6,762 L197.6,727.6Z" fill="#f28c1e" opacity=".9"/>
<path d="M490,603.5 L502.5,627 L492.6,627 L492.6,755.5 L502.5,755.5 L490,779 L477.5,755.5 L487.4,755.5 L487.4,627 L477.5,627Z" fill="#f07e0c"/>
<clipPath id="cMag"><circle cx="89" cy="758" r="80"/></clipPath>
<circle cx="89" cy="758" r="80.5" fill="#fff" stroke="#d6d6d6" stroke-width="1.2"/>
<g clip-path="url(#cMag)">
<rect x="61.2" y="670" width="29.6" height="180" fill="#242426"/>
<rect x="90.6" y="670" width="12.8" height="180" fill="#0d0d0e"/>
<rect x="103.2" y="670" width="6.8" height="180" fill="#1e1e20"/>
<rect x="109.8" y="670" width="3" height="150" fill="#b4b5b9"/>
<path d="M125,770 H143.8 V781 L147.5,786 V828 H112.5 V780 H125Z" fill="#6c6d71"/>
<path d="M112.5,780 H131 L143,800 V828 H112.5Z" fill="#9d9ea2"/>
<path d="M125,770 H143.8 V780 H125Z" fill="#85868a"/>
<path d="M94,840 V826 C95,818 100,815 112,815 L150,822 L150,845Z" fill="#19191b"/>
<path d="M95,825 C96,818 101,816 112,816" stroke="#4a4a4d" stroke-width="1.5" fill="none"/>
<path d="M74.4,677.62H89.6M80.4,681.78H89.6M80.4,685.95H89.6M80.4,690.11H89.6M80.4,694.27H89.6M78.0,698.43H89.6M80.4,702.60H89.6M80.4,706.76H89.6M80.4,710.92H89.6M80.4,715.09H89.6M74.4,719.25H89.6M80.4,723.41H89.6M80.4,727.58H89.6M80.4,731.74H89.6M80.4,735.90H89.6M78.0,740.07H89.6M80.4,744.23H89.6M80.4,748.39H89.6M80.4,752.55H89.6M80.4,756.72H89.6M74.4,760.88H89.6M80.4,765.04H89.6M80.4,769.21H89.6M80.4,773.37H89.6M80.4,777.53H89.6M78.0,781.70H89.6M80.4,785.86H89.6M80.4,790.02H89.6M80.4,794.18H89.6M80.4,798.35H89.6M74.4,802.51H89.6M80.4,806.67H89.6M80.4,810.84H89.6M80.4,815.00H89.6M80.4,819.16H89.6M78.0,823.33H89.6M80.4,827.49H89.6" stroke="#ececec" stroke-width="2.1"/>
<text x="0" y="0" transform="translate(71.2,719.2) rotate(-90)" text-anchor="middle" font-family="Liberation Sans, sans-serif" font-size="10.5" fill="#f0f0f0">5</text>
<text x="0" y="0" transform="translate(71.2,760.9) rotate(-90)" text-anchor="middle" font-family="Liberation Sans, sans-serif" font-size="10.5" fill="#f0f0f0">6</text>
<text x="0" y="0" transform="translate(71.2,802.5) rotate(-90)" text-anchor="middle" font-family="Liberation Sans, sans-serif" font-size="10.5" fill="#f0f0f0">7</text>
</g>
</g>

<g id="brprod" opacity=".88">
<use href="#clampBL" transform="matrix(-0.72 0 0 0.63 973 268)"/>
<rect x="771" y="740" width="6.5" height="37" rx="1" fill="#2b2b2e"/>
<rect x="770" y="773.5" width="8.5" height="3.5" fill="#242427"/>
<circle cx="773.5" cy="757" r="6.2" fill="#3c3d41"/>
<circle cx="773.5" cy="757" r="6.2" fill="none" stroke="#19191b" stroke-width="1"/>
<use href="#sknobBL" transform="matrix(-0.72 0 0 0.79 978.5 140.5)"/>
<use href="#armBL" transform="matrix(-0.72 0 0 0.748 975.3 184)"/>
<use href="#baseBR0" transform="matrix(-0.753 0 0 0.7345 983 189)"/>
<use href="#htubeBL" transform="matrix(-0.72 0 0 0.7345 972.6 189)"/>
<use href="#bknobBL" transform="matrix(-0.58 0 0 0.7 958 208)"/>
<use href="#plateBL" transform="matrix(-0.79 0 0 0.7345 992.2 189)"/>
<rect x="785.5" y="648" width="9" height="119" fill="#333437" opacity=".55"/>
</g>

<!-- dividers -->
<rect x="0" y="499" width="1000" height="3.2" fill="#000"/>
<rect x="532" y="499" width="3.6" height="501" fill="#000"/>

<!-- callout lines top -->
<g class="ol">
<path d="M281.5 131.3H495"/>
<path d="M282.6 226.5H416.8V277"/>
<path d="M281.5 335H348"/>
<path d="M281.5 432.5H412"/>
<path d="M742 70H636"/>
<path d="M742 131.6H570"/>
<path d="M742 213.4H542.5V290"/>
<path d="M742 307H608"/>
<path d="M742 373.4H463.5V268"/>
</g>

<!-- labels -->
<g class="lb">
<text x="55.6" y="139" textLength="215.6" lengthAdjust="spacing">REGULADOR DE ELEVACIÓN</text>
<text x="65.5" y="231" textLength="207" lengthAdjust="spacing">TORNILLO UNIVERSAL 1/4”</text>
<text x="115.6" y="329" textLength="156" lengthAdjust="spacing">SEGURO DE ZAPATA</text>
<text x="89.5" y="349" textLength="182" lengthAdjust="spacing">DE LIBERACIÓN RÁPIDA</text>
<text x="173.5" y="428.6" textLength="98" lengthAdjust="spacing">ESCALA 360°</text>
<text x="165" y="448.3" textLength="106.6" lengthAdjust="spacing">PANORAMICA</text>
<text x="750" y="76.6" textLength="182.5" lengthAdjust="spacing">SEGURO DE ELEVACIÓN</text>
<text x="750.7" y="130" textLength="127.3" lengthAdjust="spacing">ESTRUCTURA DE</text>
<text x="750" y="149.5" textLength="80.5" lengthAdjust="spacing">ALUMINIO</text>
<text x="750.7" y="216.4" textLength="142.3" lengthAdjust="spacing">SEGURO VERTICAL</text>
<text x="750.7" y="302.6" textLength="134.7" lengthAdjust="spacing">SEGURO DE GIRO</text>
<text x="750.7" y="322.4" textLength="142.3" lengthAdjust="spacing">360° HORIZONTAL</text>
<text x="750.7" y="380" textLength="134.7" lengthAdjust="spacing">PLACA DE APOYO</text>
</g>
<g class="lb2">
<text x="12.6" y="964" textLength="306" lengthAdjust="spacing">PLATINA DE AJUSTE VERTICAL DE 70MM</text>
<text x="12.6" y="983.5" textLength="400.4" lengthAdjust="spacing">CON BLOQUEO, PERMITE AJUSTE RÁPIDO Y SEGURO</text>
</g>

<!-- dimensions -->
<g class="dl">
<path d="M580 595H601M590.4 595V658.4M590.4 706V773M580 773H601"/>
<path d="M940 594H960M950 594V699.6M950 742V857M940 857H960"/>
<path d="M673.4 883V901.5M673.4 892H735.5M834.5 892H894.5M894.5 883V901.5"/>
</g>
<rect x="563" y="667.4" width="60.4" height="29.6" fill="#f07e0c"/>
<rect x="919" y="706.4" width="63" height="30" fill="#f07e0c"/>
<rect x="756.5" y="876" width="59.5" height="30" fill="#f07e0c"/>
<g class="dim" text-anchor="middle">
<text x="594" y="688">15cm</text>
<text x="950.5" y="727">23cm</text>
<text x="786.5" y="897">19cm</text>
</g>
</svg>
</body>
</html>
